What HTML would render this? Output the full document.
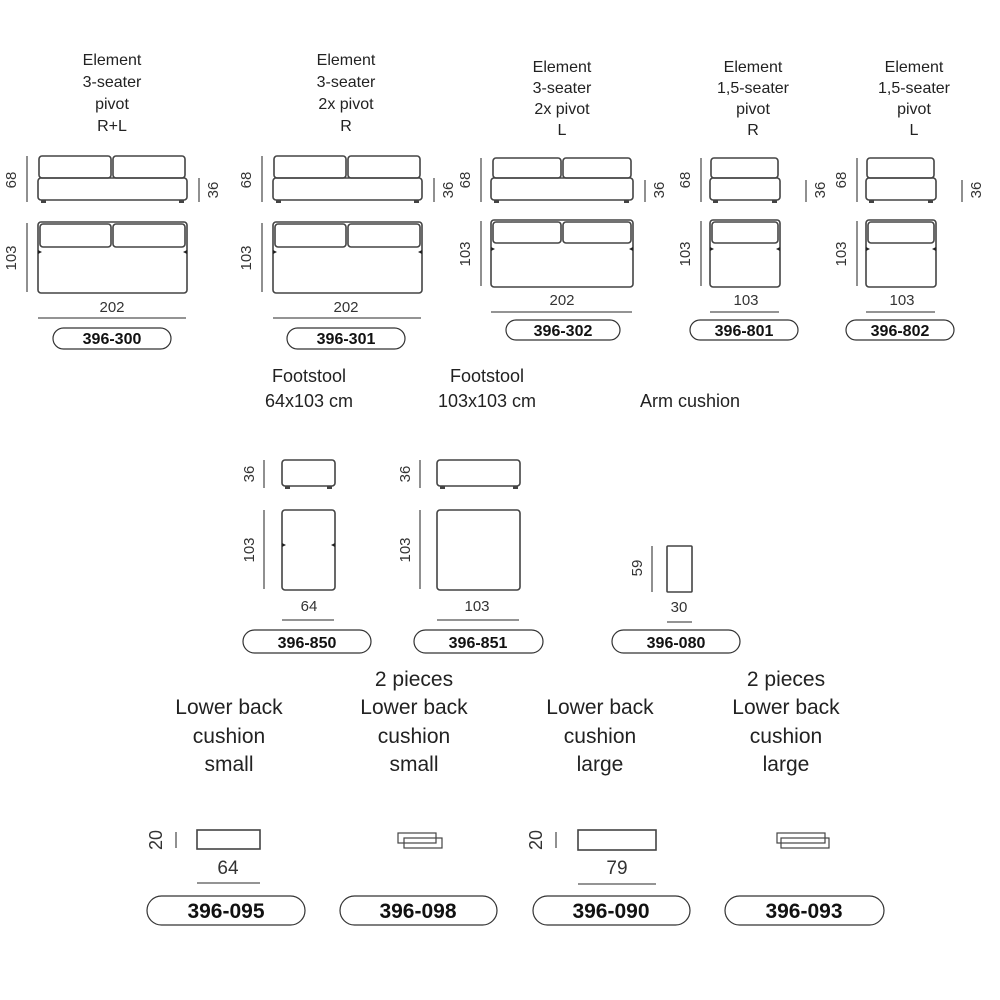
<!DOCTYPE html>
<html><head><meta charset="utf-8"><style>
html,body{margin:0;padding:0;background:#fff}
svg{display:block}
text{font-family:"Liberation Sans",sans-serif;fill:#222}
.t{font-size:16px;text-anchor:middle}
.b{font-size:21px;text-anchor:middle}
.d{font-size:15px;text-anchor:middle;fill:#333}
.p{font-size:16px;font-weight:bold;text-anchor:middle;fill:#111}
.pb{font-size:21px;font-weight:bold;text-anchor:middle;fill:#111}
.s{fill:none;stroke:#444;stroke-width:1.6}
.l{stroke:#555;stroke-width:1.3}
.pill{fill:none;stroke:#333;stroke-width:1.2}
</style></head><body>
<svg width="1000" height="1000" viewBox="0 0 1000 1000" xmlns="http://www.w3.org/2000/svg">
<!-- titles top -->
<g class="t">
<text class="t" x="112" y="65">Element</text><text class="t" x="112" y="87">3-seater</text><text class="t" x="112" y="109">pivot</text><text class="t" x="112" y="131">R+L</text>
<text class="t" x="346" y="65">Element</text><text class="t" x="346" y="87">3-seater</text><text class="t" x="346" y="109">2x pivot</text><text class="t" x="346" y="131">R</text>
<text class="t" x="562" y="72">Element</text><text class="t" x="562" y="93">3-seater</text><text class="t" x="562" y="114">2x pivot</text><text class="t" x="562" y="135">L</text>
<text class="t" x="753" y="72">Element</text><text class="t" x="753" y="93">1,5-seater</text><text class="t" x="753" y="114">pivot</text><text class="t" x="753" y="135">R</text>
<text class="t" x="914" y="72">Element</text><text class="t" x="914" y="93">1,5-seater</text><text class="t" x="914" y="114">pivot</text><text class="t" x="914" y="135">L</text>
</g>
<!-- element 1 -->
<g>
<rect class="s" x="39" y="156" width="72" height="22" rx="3"/><rect class="s" x="113" y="156" width="72" height="22" rx="3"/>
<rect class="s" x="38" y="178" width="149" height="22" rx="3"/>
<rect x="41" y="200" width="5" height="3" fill="#444"/><rect x="179" y="200" width="5" height="3" fill="#444"/>
<line class="l" x1="27" y1="156" x2="27" y2="202"/><text class="d" transform="translate(16,180) rotate(-90)">68</text>
<line class="l" x1="199" y1="178" x2="199" y2="202"/><text class="d" transform="translate(218,190) rotate(-90)">36</text>
<rect class="s" x="38" y="222" width="149" height="71" rx="3"/>
<rect class="s" x="40" y="224" width="71" height="23" rx="3"/><rect class="s" x="113" y="224" width="72" height="23" rx="3"/>
<polygon points="38,250 42,252 38,254" fill="#222"/><polygon points="187,250 183,252 187,254" fill="#222"/>
<line class="l" x1="27" y1="223" x2="27" y2="292"/><text class="d" transform="translate(16,258) rotate(-90)">103</text>
<text class="d" x="112" y="312">202</text><line class="l" x1="38" y1="318" x2="186" y2="318"/>
<rect class="pill" x="53" y="328" width="118" height="21" rx="10.5"/><text class="p" x="112" y="344">396-300</text>
</g>
<!-- element 2 -->
<g>
<rect class="s" x="274" y="156" width="72" height="22" rx="3"/><rect class="s" x="348" y="156" width="72" height="22" rx="3"/>
<rect class="s" x="273" y="178" width="149" height="22" rx="3"/>
<rect x="276" y="200" width="5" height="3" fill="#444"/><rect x="414" y="200" width="5" height="3" fill="#444"/>
<line class="l" x1="262" y1="156" x2="262" y2="202"/><text class="d" transform="translate(251,180) rotate(-90)">68</text>
<line class="l" x1="434" y1="178" x2="434" y2="202"/><text class="d" transform="translate(453,190) rotate(-90)">36</text>
<rect class="s" x="273" y="222" width="149" height="71" rx="3"/>
<rect class="s" x="275" y="224" width="71" height="23" rx="3"/><rect class="s" x="348" y="224" width="72" height="23" rx="3"/>
<polygon points="273,250 277,252 273,254" fill="#222"/><polygon points="422,250 418,252 422,254" fill="#222"/>
<line class="l" x1="262" y1="223" x2="262" y2="292"/><text class="d" transform="translate(251,258) rotate(-90)">103</text>
<text class="d" x="346" y="312">202</text><line class="l" x1="273" y1="318" x2="421" y2="318"/>
<rect class="pill" x="287" y="328" width="118" height="21" rx="10.5"/><text class="p" x="346" y="344">396-301</text>
</g>
<!-- element 3 -->
<g>
<rect class="s" x="493" y="158" width="68" height="20" rx="3"/><rect class="s" x="563" y="158" width="68" height="20" rx="3"/>
<rect class="s" x="491" y="178" width="142" height="22" rx="3"/>
<rect x="494" y="200" width="5" height="3" fill="#444"/><rect x="624" y="200" width="5" height="3" fill="#444"/>
<line class="l" x1="481" y1="158" x2="481" y2="202"/><text class="d" transform="translate(470,180) rotate(-90)">68</text>
<line class="l" x1="645" y1="180" x2="645" y2="202"/><text class="d" transform="translate(664,190) rotate(-90)">36</text>
<rect class="s" x="491" y="220" width="142" height="67" rx="3"/>
<rect class="s" x="493" y="222" width="68" height="21" rx="3"/><rect class="s" x="563" y="222" width="68" height="21" rx="3"/>
<polygon points="491,247 495,249 491,251" fill="#222"/><polygon points="633,247 629,249 633,251" fill="#222"/>
<line class="l" x1="481" y1="221" x2="481" y2="286"/><text class="d" transform="translate(470,254) rotate(-90)">103</text>
<text class="d" x="562" y="305">202</text><line class="l" x1="491" y1="312" x2="632" y2="312"/>
<rect class="pill" x="506" y="320" width="114" height="20" rx="10"/><text class="p" x="563" y="336">396-302</text>
</g>
<!-- element 4 -->
<g>
<rect class="s" x="711" y="158" width="67" height="20" rx="3"/>
<rect class="s" x="710" y="178" width="70" height="22" rx="3"/>
<rect x="713" y="200" width="5" height="3" fill="#444"/><rect x="772" y="200" width="5" height="3" fill="#444"/>
<line class="l" x1="701" y1="158" x2="701" y2="202"/><text class="d" transform="translate(690,180) rotate(-90)">68</text>
<line class="l" x1="806" y1="180" x2="806" y2="202"/><text class="d" transform="translate(825,190) rotate(-90)">36</text>
<rect class="s" x="710" y="220" width="70" height="67" rx="3"/>
<rect class="s" x="712" y="222" width="66" height="21" rx="3"/>
<polygon points="710,247 714,249 710,251" fill="#222"/><polygon points="780,247 776,249 780,251" fill="#222"/>
<line class="l" x1="701" y1="221" x2="701" y2="286"/><text class="d" transform="translate(690,254) rotate(-90)">103</text>
<text class="d" x="746" y="305">103</text><line class="l" x1="710" y1="312" x2="779" y2="312"/>
<rect class="pill" x="690" y="320" width="108" height="20" rx="10"/><text class="p" x="744" y="336">396-801</text>
</g>
<!-- element 5 -->
<g>
<rect class="s" x="867" y="158" width="67" height="20" rx="3"/>
<rect class="s" x="866" y="178" width="70" height="22" rx="3"/>
<rect x="869" y="200" width="5" height="3" fill="#444"/><rect x="928" y="200" width="5" height="3" fill="#444"/>
<line class="l" x1="857" y1="158" x2="857" y2="202"/><text class="d" transform="translate(846,180) rotate(-90)">68</text>
<line class="l" x1="962" y1="180" x2="962" y2="202"/><text class="d" transform="translate(981,190) rotate(-90)">36</text>
<rect class="s" x="866" y="220" width="70" height="67" rx="3"/>
<rect class="s" x="868" y="222" width="66" height="21" rx="3"/>
<polygon points="866,247 870,249 866,251" fill="#222"/><polygon points="936,247 932,249 936,251" fill="#222"/>
<line class="l" x1="857" y1="221" x2="857" y2="286"/><text class="d" transform="translate(846,254) rotate(-90)">103</text>
<text class="d" x="902" y="305">103</text><line class="l" x1="866" y1="312" x2="935" y2="312"/>
<rect class="pill" x="846" y="320" width="108" height="20" rx="10"/><text class="p" x="900" y="336">396-802</text>
</g>
<!-- middle titles -->
<text class="t" x="309" y="382" style="font-size:18px">Footstool</text><text class="t" x="309" y="407" style="font-size:18px">64x103 cm</text>
<text class="t" x="487" y="382" style="font-size:18px">Footstool</text><text class="t" x="487" y="407" style="font-size:18px">103x103 cm</text>
<text class="t" x="690" y="407" style="font-size:18px">Arm cushion</text>
<!-- footstool 1 -->
<rect class="s" x="282" y="460" width="53" height="26" rx="3"/>
<rect x="285" y="486" width="5" height="3" fill="#444"/><rect x="327" y="486" width="5" height="3" fill="#444"/>
<line class="l" x1="264" y1="460" x2="264" y2="488"/><text class="d" transform="translate(254,474) rotate(-90)">36</text>
<rect class="s" x="282" y="510" width="53" height="80" rx="3"/>
<polygon points="282,543 286,545 282,547" fill="#222"/><polygon points="335,543 331,545 335,547" fill="#222"/>
<line class="l" x1="264" y1="510" x2="264" y2="589"/><text class="d" transform="translate(254,550) rotate(-90)">103</text>
<text class="d" x="309" y="611">64</text><line class="l" x1="282" y1="620" x2="334" y2="620"/>
<rect class="pill" x="243" y="630" width="128" height="23" rx="11.5"/><text class="p" x="307" y="648">396-850</text>
<!-- footstool 2 -->
<rect class="s" x="437" y="460" width="83" height="26" rx="3"/>
<rect x="440" y="486" width="5" height="3" fill="#444"/><rect x="513" y="486" width="5" height="3" fill="#444"/>
<line class="l" x1="420" y1="460" x2="420" y2="488"/><text class="d" transform="translate(410,474) rotate(-90)">36</text>
<rect class="s" x="437" y="510" width="83" height="80" rx="3"/>
<line class="l" x1="420" y1="510" x2="420" y2="589"/><text class="d" transform="translate(410,550) rotate(-90)">103</text>
<text class="d" x="477" y="611">103</text><line class="l" x1="437" y1="620" x2="519" y2="620"/>
<rect class="pill" x="414" y="630" width="129" height="23" rx="11.5"/><text class="p" x="478" y="648">396-851</text>
<!-- arm cushion -->
<rect class="s" x="667" y="546" width="25" height="46" rx="1"/>
<line class="l" x1="652" y1="546" x2="652" y2="592"/><text class="d" transform="translate(642,568) rotate(-90)">59</text>
<text class="d" x="679" y="612">30</text><line class="l" x1="667" y1="622" x2="692" y2="622"/>
<rect class="pill" x="612" y="630" width="128" height="23" rx="11.5"/><text class="p" x="676" y="648">396-080</text>
<!-- bottom titles -->
<text class="b" x="229" y="714">Lower back</text><text class="b" x="229" y="743">cushion</text><text class="b" x="229" y="771">small</text>
<text class="b" x="414" y="686">2 pieces</text><text class="b" x="414" y="714">Lower back</text><text class="b" x="414" y="743">cushion</text><text class="b" x="414" y="771">small</text>
<text class="b" x="600" y="714">Lower back</text><text class="b" x="600" y="743">cushion</text><text class="b" x="600" y="771">large</text>
<text class="b" x="786" y="686">2 pieces</text><text class="b" x="786" y="714">Lower back</text><text class="b" x="786" y="743">cushion</text><text class="b" x="786" y="771">large</text>
<!-- bottom items -->
<rect class="s" x="197" y="830" width="63" height="19"/>
<line class="l" x1="176" y1="832" x2="176" y2="848"/><text class="d" transform="translate(162,840) rotate(-90)" style="font-size:18px">20</text>
<text class="d" x="228" y="874" style="font-size:19px">64</text><line class="l" x1="197" y1="883" x2="260" y2="883"/>
<rect class="pill" x="147" y="896" width="158" height="29" rx="14.5"/><text class="pb" x="226" y="918">396-095</text>

<rect class="s" x="398" y="833" width="38" height="10" style="stroke-width:1.2"/><rect class="s" x="404" y="838" width="38" height="10" style="stroke-width:1.2"/>
<rect class="pill" x="340" y="896" width="157" height="29" rx="14.5"/><text class="pb" x="418" y="918">396-098</text>

<rect class="s" x="578" y="830" width="78" height="20"/>
<line class="l" x1="556" y1="832" x2="556" y2="848"/><text class="d" transform="translate(542,840) rotate(-90)" style="font-size:18px">20</text>
<text class="d" x="617" y="874" style="font-size:19px">79</text><line class="l" x1="578" y1="884" x2="656" y2="884"/>
<rect class="pill" x="533" y="896" width="157" height="29" rx="14.5"/><text class="pb" x="611" y="918">396-090</text>

<rect class="s" x="777" y="833" width="48" height="10" style="stroke-width:1.2"/><rect class="s" x="781" y="838" width="48" height="10" style="stroke-width:1.2"/>
<rect class="pill" x="725" y="896" width="159" height="29" rx="14.5"/><text class="pb" x="804" y="918">396-093</text>
</svg>
</body></html>
